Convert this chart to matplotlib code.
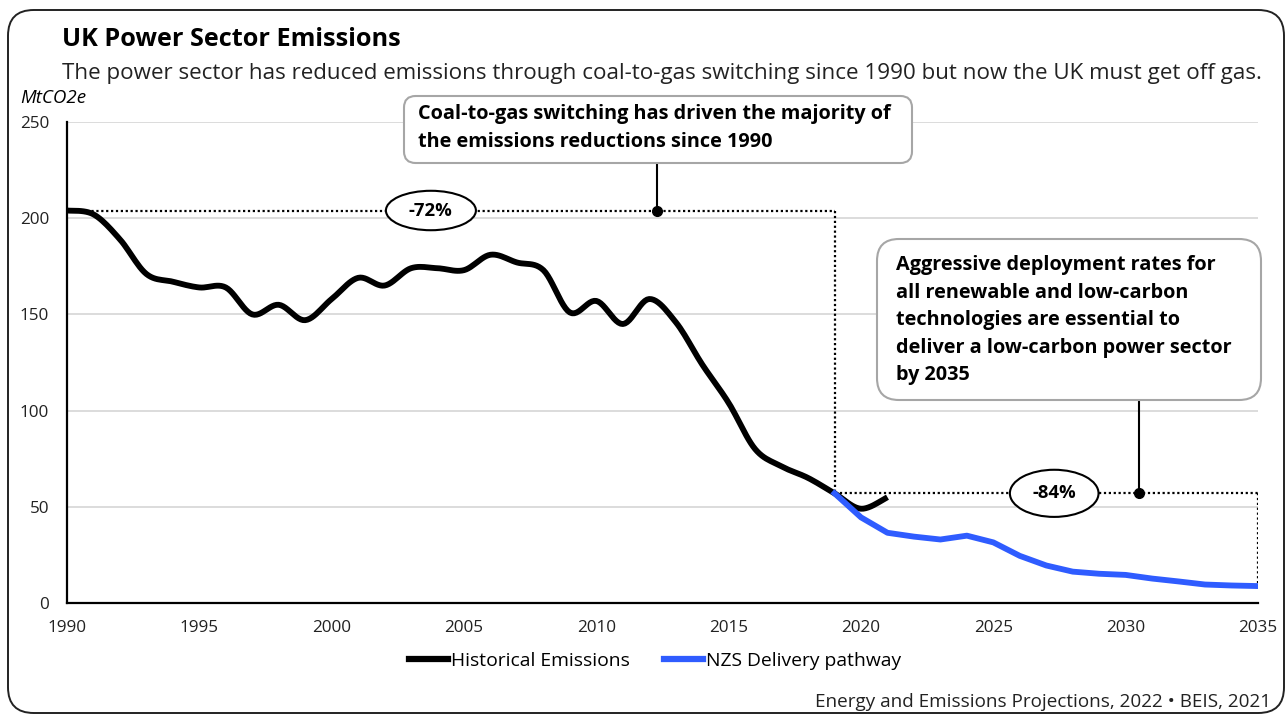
#!/usr/bin/env python3

import numpy as np
import matplotlib.pyplot as plt
from matplotlib.patches import Ellipse, FancyBboxPatch
from matplotlib.lines import Line2D

# Historical emissions (MtCO2e), 1990-2021
hist_years = list(range(1990, 2022))
hist_values = [204, 202, 189, 171, 167, 164, 164, 150, 155, 147,
               158, 169, 165, 174, 174, 173, 181, 177, 173, 151,
               157, 145, 158, 146, 124, 104, 80, 71, 65, 57,
               49, 55]

# NZS delivery pathway, 2019-2035
nzs_years = list(range(2019, 2036))
nzs_values = [57, 44.5, 36.5, 34.5, 33, 35, 31.5, 24.5, 19.5, 16.3,
              15.2, 14.6, 12.7, 11.2, 9.6, 9.1, 8.8]

y_ticks = [0, 50, 100, 150, 200, 250]
x_ticks = list(range(1990, 2036, 5))

W, H = 1288, 715
FONT = "Open Sans"
BLUE = "#2f5cff"


def px(x, y):
    """Pixel position (from top-left) to figure fraction."""
    return x / W, 1 - y / H


def smooth(xs, ys, n=12):
    """Catmull-Rom path through the points, like a spreadsheet smoothed line."""
    xs = np.asarray(xs, float)
    ys = np.asarray(ys, float)
    p = np.column_stack([xs, ys])
    p = np.vstack([p[0], p, p[-1]])
    out = []
    for i in range(1, len(p) - 2):
        p0, p1, p2, p3 = p[i - 1], p[i], p[i + 1], p[i + 2]
        t = np.linspace(0, 1, n, endpoint=False)[:, None]
        seg = 0.5 * ((2 * p1) + (-p0 + p2) * t
                     + (2 * p0 - 5 * p1 + 4 * p2 - p3) * t ** 2
                     + (-p0 + 3 * p1 - 3 * p2 + p3) * t ** 3)
        out.append(seg)
    out.append(p[-2][None, :])
    out = np.vstack(out)
    return out[:, 0], out[:, 1]


plt.rcParams["font.family"] = [FONT, "DejaVu Sans"]

fig = plt.figure(figsize=(W / 100, H / 100), dpi=100)
ax = fig.add_axes([67 / W, 1 - 603 / H, (1258 - 67) / W, (603 - 122) / H])

# Outer rounded frame
frame = FancyBboxPatch((8 / W, 2 / H), (1284 - 8) / W, (705 - 2) / H,
                       boxstyle="round,pad=0,rounding_size=0.02",
                       transform=fig.transFigure, facecolor="none",
                       edgecolor="#222222", linewidth=1.4,
                       mutation_aspect=W / H)
fig.patches.append(frame)

# Series
hx, hy = smooth(hist_years, hist_values)
ax.plot(hx, hy, color="black", lw=4.2, solid_capstyle="butt", zorder=4)
ax.plot(nzs_years, nzs_values, color=BLUE, lw=4.2, zorder=5)

# Dotted reference lines
start, mid, end = hist_values[0], nzs_values[0], nzs_values[-1]
dot = dict(color="black", lw=1.6, ls=(0, (1, 1.2)), zorder=3)
ax.plot([1990, 2019], [start, start], **dot)
ax.plot([2019, 2019], [start, mid], **dot)
ax.plot([2019, 2035], [mid, mid], **dot)
ax.plot([2035, 2035], [mid, end], **dot)

# Percentage ellipses
for cx, cy, w, h, label in [(2003.75, start, 3.4, 20.5, "-72%"),
                            (2027.3, mid, 3.35, 24.5, "-84%")]:
    ax.add_patch(Ellipse((cx, cy), w, h, facecolor="white",
                         edgecolor="black", lw=1.5, zorder=6,
                         clip_on=False))
    ax.text(cx, cy, label, ha="center", va="center", fontsize=13.3,
            fontweight="bold", zorder=7)

# Connector lines with dots
ax.plot([2012.3, 2012.3], [start, 228.5], color="black", lw=1.5,
        zorder=6, clip_on=False)
ax.plot(2012.3, start, "o", color="black", ms=7, zorder=7)
ax.plot([2030.5, 2030.5], [mid, 105], color="black", lw=1.5, zorder=6)
ax.plot(2030.5, mid, "o", color="black", ms=7, zorder=7)

# Axes styling
ax.set_xlim(1990, 2035)
ax.set_ylim(0, 250)
ax.set_xticks(x_ticks)
ax.set_yticks(y_ticks)
ax.tick_params(length=0, labelsize=12.3, colors="#222222")
ax.tick_params(axis="y", pad=13)
ax.tick_params(axis="x", pad=12)
ax.grid(axis="y", color="#d9d9d9", lw=1.3)
ax.set_axisbelow(True)
for s in ["top", "right"]:
    ax.spines[s].set_visible(False)
for s in ["left", "bottom"]:
    ax.spines[s].set_linewidth(1.6)
    ax.spines[s].set_color("black")

# Annotation boxes
box1 = FancyBboxPatch(px(404, 163), (912 - 404) / W, (163 - 96) / H,
                      boxstyle="round,pad=0,rounding_size=0.009",
                      transform=fig.transFigure, facecolor="white",
                      edgecolor="#a6a6a6", lw=1.5, mutation_aspect=W / H,
                      zorder=10)
fig.patches.append(box1)
fig.text(*px(418, 114), "Coal-to-gas switching has driven the majority of",
         fontsize=14.3, fontweight="bold", va="center", zorder=11)
fig.text(*px(418, 142), "the emissions reductions since 1990",
         fontsize=14.3, fontweight="bold", va="center", zorder=11)

box2 = FancyBboxPatch(px(877, 400), (1261 - 877) / W, (400 - 239) / H,
                      boxstyle="round,pad=0,rounding_size=0.017",
                      transform=fig.transFigure, facecolor="white",
                      edgecolor="#a6a6a6", lw=1.5, mutation_aspect=W / H,
                      zorder=10)
fig.patches.append(box2)
lines2 = ["Aggressive deployment rates for",
          "all renewable and low-carbon",
          "technologies are essential to",
          "deliver a low-carbon power sector",
          "by 2035"]
for i, line in enumerate(lines2):
    fig.text(*px(896, 265 + i * 27.5), line, fontsize=14.3,
             fontweight="bold", va="center", zorder=11)

# Titles
fig.text(*px(62, 39), "UK Power Sector Emissions", fontsize=18.2,
         fontweight="bold", va="center")
fig.text(*px(62, 73), "The power sector has reduced emissions through "
         "coal-to-gas switching since 1990 but now the UK must get off gas.",
         fontsize=16.1, va="center", color="#222222")
fig.text(*px(20, 98), "MtCO2e", fontsize=13.5, style="italic", va="center")
fig.text(*px(1271, 702), "Energy and Emissions Projections, 2022 \u2022 BEIS, 2021",
         fontsize=13.6, ha="right", va="center", color="#222222")

# Legend
handles = [Line2D([], [], color="black", lw=4.5),
           Line2D([], [], color=BLUE, lw=4.5)]
fig.legend(handles, ["Historical Emissions", "NZS Delivery pathway"],
           loc="center", bbox_to_anchor=(px(655, 661)), ncol=2,
           frameon=False, fontsize=13.9, handlelength=2.0,
           handletextpad=0.15, columnspacing=1.8)

fig.savefig("out.png", dpi=100)
